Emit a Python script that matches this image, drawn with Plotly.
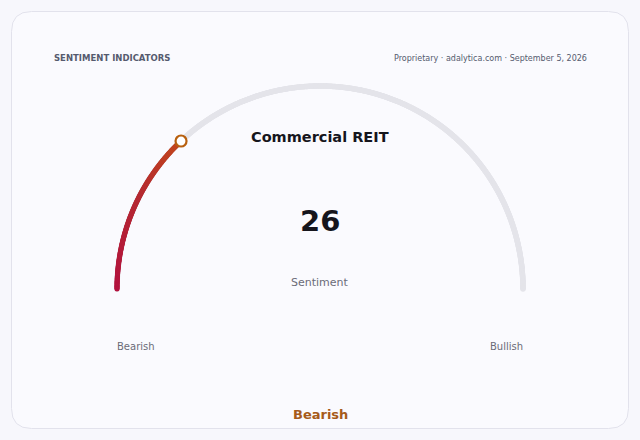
import numpy as np
import plotly.graph_objects as go

# gauge data
indicator = "Commercial REIT"
value = 26
scale_min, scale_max = 0, 100
low_label, high_label = "Bearish", "Bullish"
reading = "Bearish"
metric = "Sentiment"
header_left = "SENTIMENT INDICATORS"
header_right = "Proprietary · adalytica.com · September 5, 2026"

W, H = 640, 440
cx, cy, R = 320, 289, 203
FONT = "DejaVu Sans"


def arc_points(v0, v1, n):
    frac = (np.linspace(v0, v1, n) - scale_min) / (scale_max - scale_min)
    ang = np.pi * (1 - frac)
    return cx + R * np.cos(ang), cy - R * np.sin(ang)


fig = go.Figure()

# grey track
tx, ty = arc_points(scale_min, scale_max, 900)
fig.add_trace(go.Scatter(x=tx, y=ty, mode="markers", hoverinfo="skip",
                         marker=dict(size=5.5, color="#e4e4ea", line=dict(width=0))))

# coloured part up to the value (gradient)
n = max(int(value * 9), 2)
vx, vy = arc_points(scale_min, value, n)
fig.add_trace(go.Scatter(x=vx, y=vy, mode="markers", hoverinfo="skip",
                         marker=dict(size=5, color=np.linspace(0, 1, n),
                                     colorscale=[[0, "#b3123f"], [0.6, "#b52a32"], [1, "#c2461d"]],
                                     line=dict(width=0))))

# end knob
kx, ky = arc_points(value, value, 1)
fig.add_trace(go.Scatter(x=kx, y=ky, mode="markers", hoverinfo="skip",
                         marker=dict(size=11, color="white",
                                     line=dict(width=2.2, color="#b8600f"))))

# card
r = 20
x0, y0, x1, y1 = 11.5, 11.5, 628.5, 428.5
card = (f"M{x0+r},{y0} L{x1-r},{y0} Q{x1},{y0} {x1},{y0+r} L{x1},{y1-r} "
        f"Q{x1},{y1} {x1-r},{y1} L{x0+r},{y1} Q{x0},{y1} {x0},{y1-r} "
        f"L{x0},{y0+r} Q{x0},{y0} {x0+r},{y0} Z")
fig.add_shape(type="path", path=card, layer="below",
              fillcolor="#fafafe", line=dict(color="#e2e2ec", width=1))


def txt(x, y, s, size, color, bold=False, anchor="center"):
    fig.add_annotation(x=x, y=y, text=f"<b>{s}</b>" if bold else s, showarrow=False,
                       xanchor=anchor, yanchor="middle",
                       font=dict(family=FONT, size=size, color=color))


txt(52, 58, header_left, 8.5, "#555a6e", bold=True, anchor="left")
txt(589, 58, header_right, 8, "#555a6e", anchor="right")
txt(320, 137, indicator, 14.5, "#15151c", bold=True)
txt(320, 221, str(value), 29, "#15151c", bold=True)
txt(320, 282, metric, 11, "#6b6b78")
txt(136, 346, low_label, 10, "#6b6b78")
txt(506, 346, high_label, 10, "#6b6b78")
txt(320, 414, reading, 13, "#a65a1a", bold=True)

fig.update_layout(
    width=W, height=H, margin=dict(l=0, r=0, t=0, b=0),
    paper_bgcolor="#f7f7fc", plot_bgcolor="rgba(0,0,0,0)",
    showlegend=False,
    xaxis=dict(range=[0, W], visible=False, fixedrange=True),
    yaxis=dict(range=[H, 0], visible=False, fixedrange=True),
)

fig.write_html("out.html", config={"displayModeBar": False},
               post_script="document.body.style.margin='0';")
